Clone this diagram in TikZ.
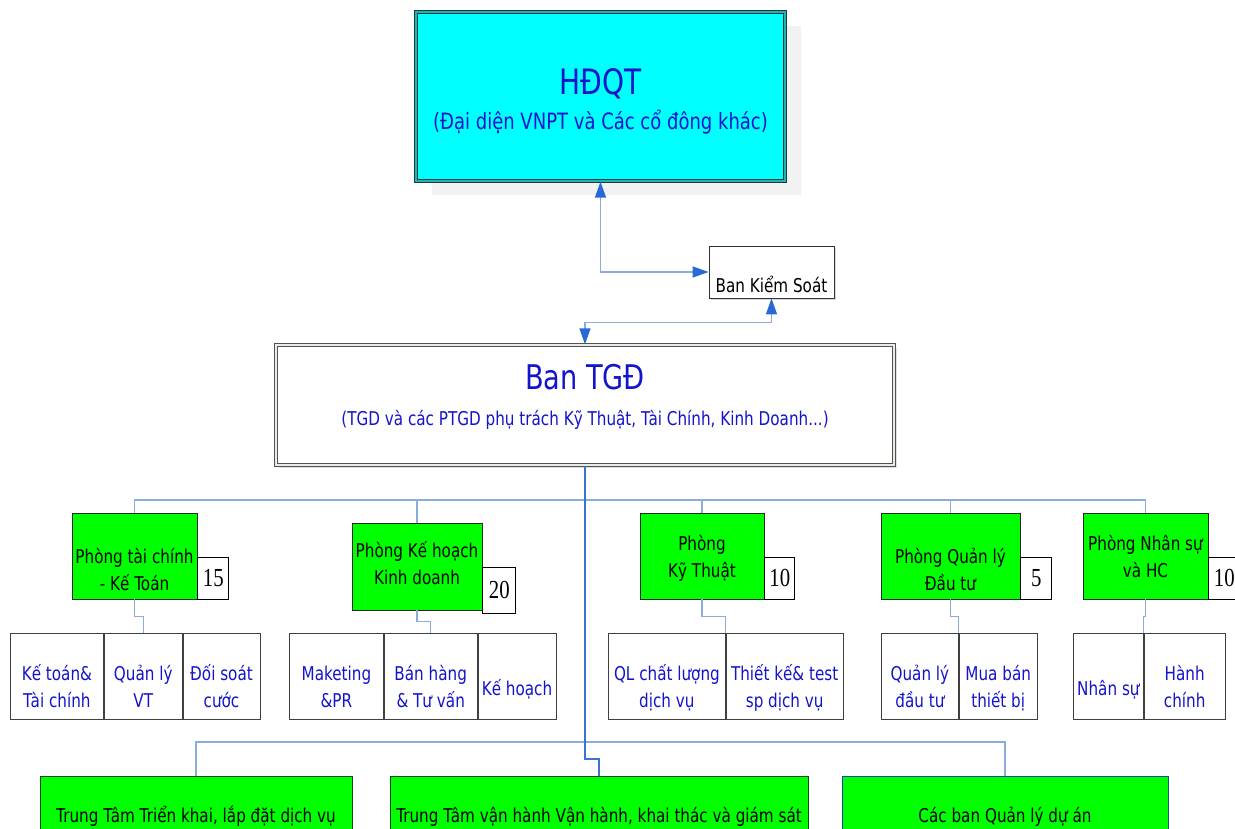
\documentclass[tikz,border=0pt]{standalone}
\usepackage{fontspec}
\setmainfont{DejaVu Sans}[FakeStretch=0.8]
\newfontfamily\numfont{Liberation Serif}[FakeStretch=0.8]
\usetikzlibrary{calc,arrows.meta,shadows}
\definecolor{hdqtcyan}{RGB}{0,255,255}
\definecolor{boxgreen}{RGB}{0,255,0}
\definecolor{txtblue}{RGB}{20,20,205}
\definecolor{linkblue}{RGB}{140,172,222}
\definecolor{trunkblue}{RGB}{60,115,210}
\definecolor{tipblue}{RGB}{40,105,215}
\tikzset{
  my fork down/.style={
    to path={
      (\tikztostart)
      -- ($(\tikztostart)!0.5!(\tikztotarget-|\tikztostart)$)
      -| (\tikztotarget)
    }}
  }

\begin{document}
\begin{tikzpicture}[
    x=1pt, y=-1pt,
    nodes={inner sep=0pt, font=\fontsize{19}{27}\selectfont},
    board/.style={%
        draw={rgb,255:red,25;green,60;blue,60}, line width=1.3pt,
        double={rgb,255:red,40;green,175;blue,175}, double distance=1.6pt,
        fill=hdqtcyan, text=txtblue, align=center,
        minimum width=369pt, minimum height=169pt,
        text height=118pt, text depth=51pt,
        drop shadow={shadow xshift=16pt, shadow yshift=-14pt, fill=black!5, opacity=1}},
    chief/.style={%
        draw={rgb,255:red,80;green,85;blue,75}, line width=1.3pt,
        double=black!8, double distance=1.4pt,
        fill=white, text=txtblue, align=center,
        minimum width=618pt, minimum height=120pt,
        text height=80pt, text depth=40pt,
        drop shadow={shadow xshift=3pt, shadow yshift=-3pt, fill=black!12, opacity=1}},
    control/.style={%
        draw=black!80, thick, fill=white,
        minimum width=125pt, minimum height=52pt,
        text height=47pt, text depth=5pt,
        drop shadow={shadow xshift=2pt, shadow yshift=-2pt, fill=black!15, opacity=1}},
    dept/.style={%
        draw=black!85, thick, fill=boxgreen, align=center,
        minimum height=86pt},
    count/.style={%
        draw=black, thick, fill=white,
        font=\numfont\fontsize{26}{26}\selectfont,
        minimum width=31pt, minimum height=42pt},
    unit/.style={%
        draw=black!75, thick, fill=white, text=txtblue, align=center,
        minimum height=86pt, text height=74pt, text depth=12pt},
    unitone/.style={unit, text height=62pt, text depth=24pt},
    centre/.style={%
        draw={rgb,255:red,20;green,70;blue,20}, thick, fill=boxgreen,
        minimum height=80pt, text height=46pt, text depth=34pt},
    link/.style={draw=linkblue, line width=1.3pt},
    trunk/.style={draw=trunkblue, line width=1.6pt},
    ctrl/.style={draw=linkblue, line width=1.3pt,
        {Triangle[length=16pt,width=11pt,color=tipblue]}-{Triangle[length=16pt,width=11pt,color=tipblue]}},
]
\useasboundingbox (0,0) rectangle (1235,829);
    %Board
    \node[board] (hdqt) at (600.5,96.5)
        {{\fontsize{35}{40}\selectfont HĐQT}\\[8pt]
         {\fontsize{22.5}{27}\selectfont (Đại diện VNPT và Các cổ đông khác)}};
    %Control board
    \node[control] (bks) at (771.5,272) {Ban Kiểm Soát};
    %General directors
    \node[chief] (tgd) at (585,405)
        {{\fontsize{34}{40}\selectfont Ban TGĐ}\\[9pt]
         (TGD và các PTGD phụ trách Kỹ Thuật, Tài Chính, Kinh Doanh...)};
    %Departments
    \node[dept, minimum width=125pt, text height=77pt, text depth=9pt] (tc) at (134.5,556)
        {Phòng tài chính\\- Kế Toán};
    \node[dept, minimum width=130pt, minimum height=87pt, text height=61pt, text depth=26pt] (kh) at (417,566.5)
        {Phòng Kế hoạch\\Kinh doanh};
    \node[dept, minimum width=124pt, text height=64pt, text depth=22pt] (kt) at (702,556)
        {Phòng\\Kỹ Thuật};
    \node[dept, minimum width=139pt, text height=77pt, text depth=9pt] (qldt) at (950.5,556)
        {Phòng Quản lý\\Đầu tư};
    \node[dept, minimum width=125pt, text height=64pt, text depth=22pt] (ns) at (1145.5,556)
        {Phòng Nhân sự\\và HC};
    %Staff numbers
    \node[count, anchor=south west] (n15) at (tc.south east) {15};
    \node[count, anchor=south west, minimum width=33pt, minimum height=46pt] (n20) at ([yshift=-3pt]kh.south east) {20};
    \node[count, anchor=south west, minimum width=30pt] (n10) at (kt.south east) {10};
    \node[count, anchor=south west] (n5) at (qldt.south east) {5};
    \node[count, anchor=south west] (n10b) at (ns.south east) {10};
    %Units
    \node[unit, anchor=north west, minimum width=93pt] (tc1) at (10,633) {Kế toán\&\\Tài chính};
    \node[unit, anchor=north west, minimum width=78pt] (tc2) at (tc1.north east) {Quản lý\\VT};
    \node[unit, anchor=north west, minimum width=77pt] (tc3) at (tc2.north east) {Đối soát\\cước};
    \node[unit, anchor=north west, minimum width=94pt] (kh1) at (289,633) {Maketing\\\&PR};
    \node[unit, anchor=north west, minimum width=93pt] (kh2) at (kh1.north east) {Bán hàng\\\& Tư vấn};
    \node[unitone, anchor=north west, minimum width=78pt] (kh3) at (kh2.north east) {Kế hoạch};
    \node[unit, anchor=north west, minimum width=117pt] (kt1) at (608,633) {QL chất lượng\\dịch vụ};
    \node[unit, anchor=north west, minimum width=117pt] (kt2) at (kt1.north east) {Thiết kế\& test\\sp dịch vụ};
    \node[unit, anchor=north west, minimum width=77pt] (qd1) at (881,633) {Quản lý\\đầu tư};
    \node[unit, anchor=north west, minimum width=78pt] (qd2) at (qd1.north east) {Mua bán\\thiết bị};
    \node[unitone, anchor=north west, minimum width=70pt] (ns1) at (1073,633) {Nhân sự};
    \node[unit, anchor=north west, minimum width=81pt] (ns2) at (ns1.north east) {Hành\\chính};
    %Centres
    \node[centre, anchor=north, minimum width=312pt] (ttk) at (196,776) {Trung Tâm Triển khai, lắp đặt dịch vụ};
    \node[centre, anchor=north, minimum width=418pt] (tvh) at (599,776) {Trung Tâm vận hành Vận hành, khai thác và giám sát};
    \node[centre, anchor=north, minimum width=326pt, draw={rgb,255:red,30;green,70;blue,160}] (qlda) at (1005,776) {Các ban Quản lý dự án};
    %Connectors
    \coordinate (bus1) at (585,500);
    \coordinate (bus2) at (585,742);
    \draw[ctrl] (hdqt.south) |- (bks.west);
    \draw[ctrl] (bks.south) -- ++(0,24) -| (tgd.north);
    \draw[link] (bus1) -| (tc.north);
    \draw[link] (bus1) -| (kh.north);
    \draw[link] (bus1) -| (kt.north);
    \draw[link] (bus1) -| (qldt.north);
    \draw[link] (bus1) -| (ns.north);
    \draw[link] (bus2) -| (ttk.north);
    \draw[link] (bus2) -| (qlda.north);
    \draw[trunk] (tgd.south) -- (bus2);
    \draw[trunk] (bus2) to[my fork down] (tvh.north);
    \draw[link] (tc.south) to[my fork down] (tc2.north);
    \draw[link] (kh.south) to[my fork down] (kh2.north);
    \draw[link] (kt.south) to[my fork down] (kt1.north east);
    \draw[link] (qldt.south) to[my fork down] (qd1.north east);
    \draw[link] (ns.south) to[my fork down] (ns1.north east);
\end{tikzpicture}
\end{document}
